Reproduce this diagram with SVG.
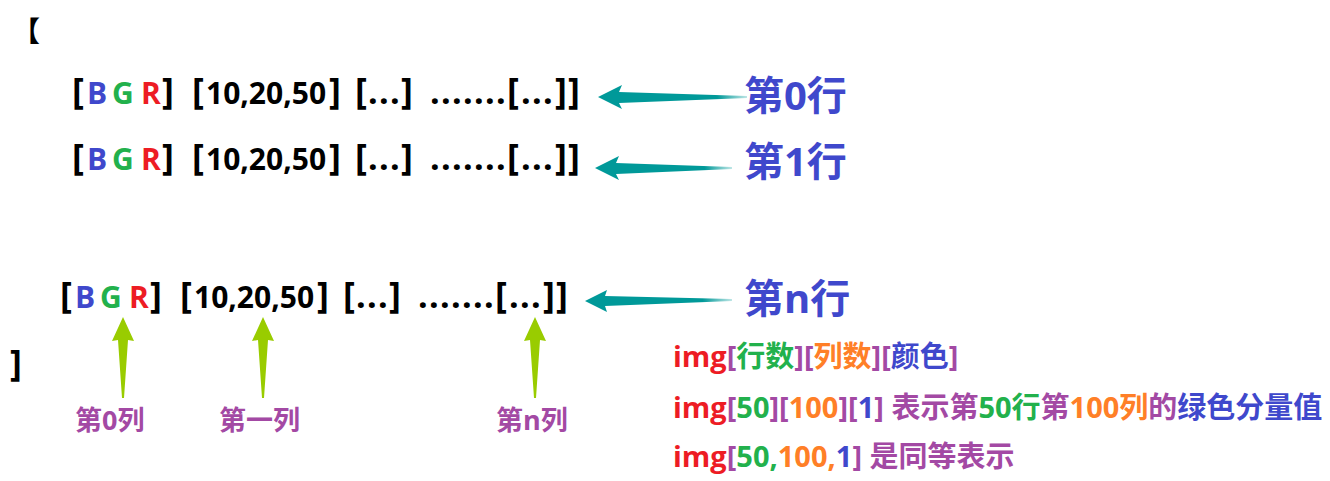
<svg xmlns="http://www.w3.org/2000/svg" width="1330" height="481" viewBox="0 0 1330 481">
<style>
.t{font-family:"Open Sans","Noto Sans CJK SC",sans-serif;font-weight:bold;}
.row{font-size:30px;fill:#000;}
.k{font-size:36px;}
.d{font-size:34px;}
.b{fill:#3f48cc}.g{fill:#22b14c}.r{fill:#ed1c24}.o{fill:#ff7f27}.p{fill:#a349a4}
.lbl{font-size:40px;fill:#3f48cc;}
.col{font-size:27px;fill:#a349a4;}
.info{font-size:29px;}
.teal{fill:url(#tg);}
.lime{fill:#99cc00;}
</style>
<defs>
<linearGradient id="tg" x1="0" y1="0" x2="1" y2="0">
<stop offset="0" stop-color="#009999"/>
<stop offset="0.8" stop-color="#009999"/>
<stop offset="1" stop-color="#bfe6e6"/>
</linearGradient>
</defs>
<rect width="1330" height="481" fill="#fff"/>
<g id="open-bracket"><text class="t" x="12" y="42" font-size="28" fill="#000">【</text></g>
<g id="close-bracket"><text class="t row k" x="10" y="376">]</text></g>
<g id="row0">
<text class="t row" y="104"><tspan x="72" class="k">[</tspan><tspan x="87" class="b">B</tspan><tspan x="112" class="g">G</tspan><tspan x="141" class="r">R</tspan><tspan x="162" class="k">]</tspan><tspan x="192" class="k">[</tspan><tspan x="206">10,20,50</tspan><tspan x="329" class="k">]</tspan><tspan x="355" class="k">[</tspan><tspan x="368 379 390" class="d">...</tspan><tspan x="401" class="k">]</tspan><tspan x="430 441 452 463 474 485 496" class="d">.......</tspan><tspan x="507" class="k">[</tspan><tspan x="521 532 543" class="d">...</tspan><tspan x="555" class="k">]</tspan><tspan x="568" class="k">]</tspan></text>
</g>
<g id="row1">
<text class="t row" y="170"><tspan x="72" class="k">[</tspan><tspan x="87" class="b">B</tspan><tspan x="112" class="g">G</tspan><tspan x="141" class="r">R</tspan><tspan x="162" class="k">]</tspan><tspan x="192" class="k">[</tspan><tspan x="206">10,20,50</tspan><tspan x="329" class="k">]</tspan><tspan x="355" class="k">[</tspan><tspan x="368 379 390" class="d">...</tspan><tspan x="401" class="k">]</tspan><tspan x="430 441 452 463 474 485 496" class="d">.......</tspan><tspan x="507" class="k">[</tspan><tspan x="521 532 543" class="d">...</tspan><tspan x="555" class="k">]</tspan><tspan x="568" class="k">]</tspan></text>
</g>
<g id="rown">
<text class="t row" y="308"><tspan x="60" class="k">[</tspan><tspan x="75" class="b">B</tspan><tspan x="100" class="g">G</tspan><tspan x="129" class="r">R</tspan><tspan x="150" class="k">]</tspan><tspan x="180" class="k">[</tspan><tspan x="194">10,20,50</tspan><tspan x="317" class="k">]</tspan><tspan x="343" class="k">[</tspan><tspan x="356 367 378" class="d">...</tspan><tspan x="389" class="k">]</tspan><tspan x="418 429 440 451 462 473 484" class="d">.......</tspan><tspan x="495" class="k">[</tspan><tspan x="509 520 531" class="d">...</tspan><tspan x="543" class="k">]</tspan><tspan x="556" class="k">]</tspan></text>
</g>
<g id="label-row0"><text class="t lbl" x="744" y="110">第0行</text></g>
<g id="label-row1"><text class="t lbl" x="744" y="176">第1行</text></g>
<g id="label-rown"><text class="t lbl" x="744" y="313">第n行</text></g>
<g id="label-col0"><text class="t col" x="75" y="430">第0列</text></g>
<g id="label-col1"><text class="t col" x="219" y="430">第一列</text></g>
<g id="label-coln"><text class="t col" x="496" y="430">第n列</text></g>
<g id="info">
<text class="t info" x="673" y="367"><tspan class="r">img</tspan><tspan class="p">[</tspan><tspan class="g">行数</tspan><tspan class="p">][</tspan><tspan class="o">列数</tspan><tspan class="p">][</tspan><tspan class="b">颜色</tspan><tspan class="p">]</tspan></text>
<text class="t info" x="673" y="418"><tspan class="r">img</tspan><tspan class="p">[</tspan><tspan class="g">50</tspan><tspan class="p">][</tspan><tspan class="o">100</tspan><tspan class="p">][</tspan><tspan class="b">1</tspan><tspan class="p">] 表示第</tspan><tspan class="g">50行</tspan><tspan class="p">第</tspan><tspan class="o">100列</tspan><tspan class="p">的</tspan><tspan class="b">绿色分量值</tspan></text>
<text class="t info" x="673" y="467"><tspan class="r">img</tspan><tspan class="p">[</tspan><tspan class="g">50,</tspan><tspan class="o">100,</tspan><tspan class="b">1</tspan><tspan class="p">] 是同等表示</tspan></text>
</g>
<g id="connectors">
<polygon class="teal" points="598,97 622,85 619,92 747,96 747,98 619,103 622,109"/>
<polygon class="teal" points="595,168 619,156 616,163 732,167 732,169 616,174 619,180"/>
<polygon class="teal" points="585,301 607,290 605,296 732,299 732,301 605,306 607,312"/>
<polygon class="lime" points="123,317 134,341 128,340 124,398 122,398 118,340 112,341"/>
<polygon class="lime" points="263,317 274,341 268,340 264,398 262,398 258,340 252,341"/>
<polygon class="lime" points="535,317 546,341 540,340 536,398 534,398 530,340 524,341"/>
</g>
</svg>
